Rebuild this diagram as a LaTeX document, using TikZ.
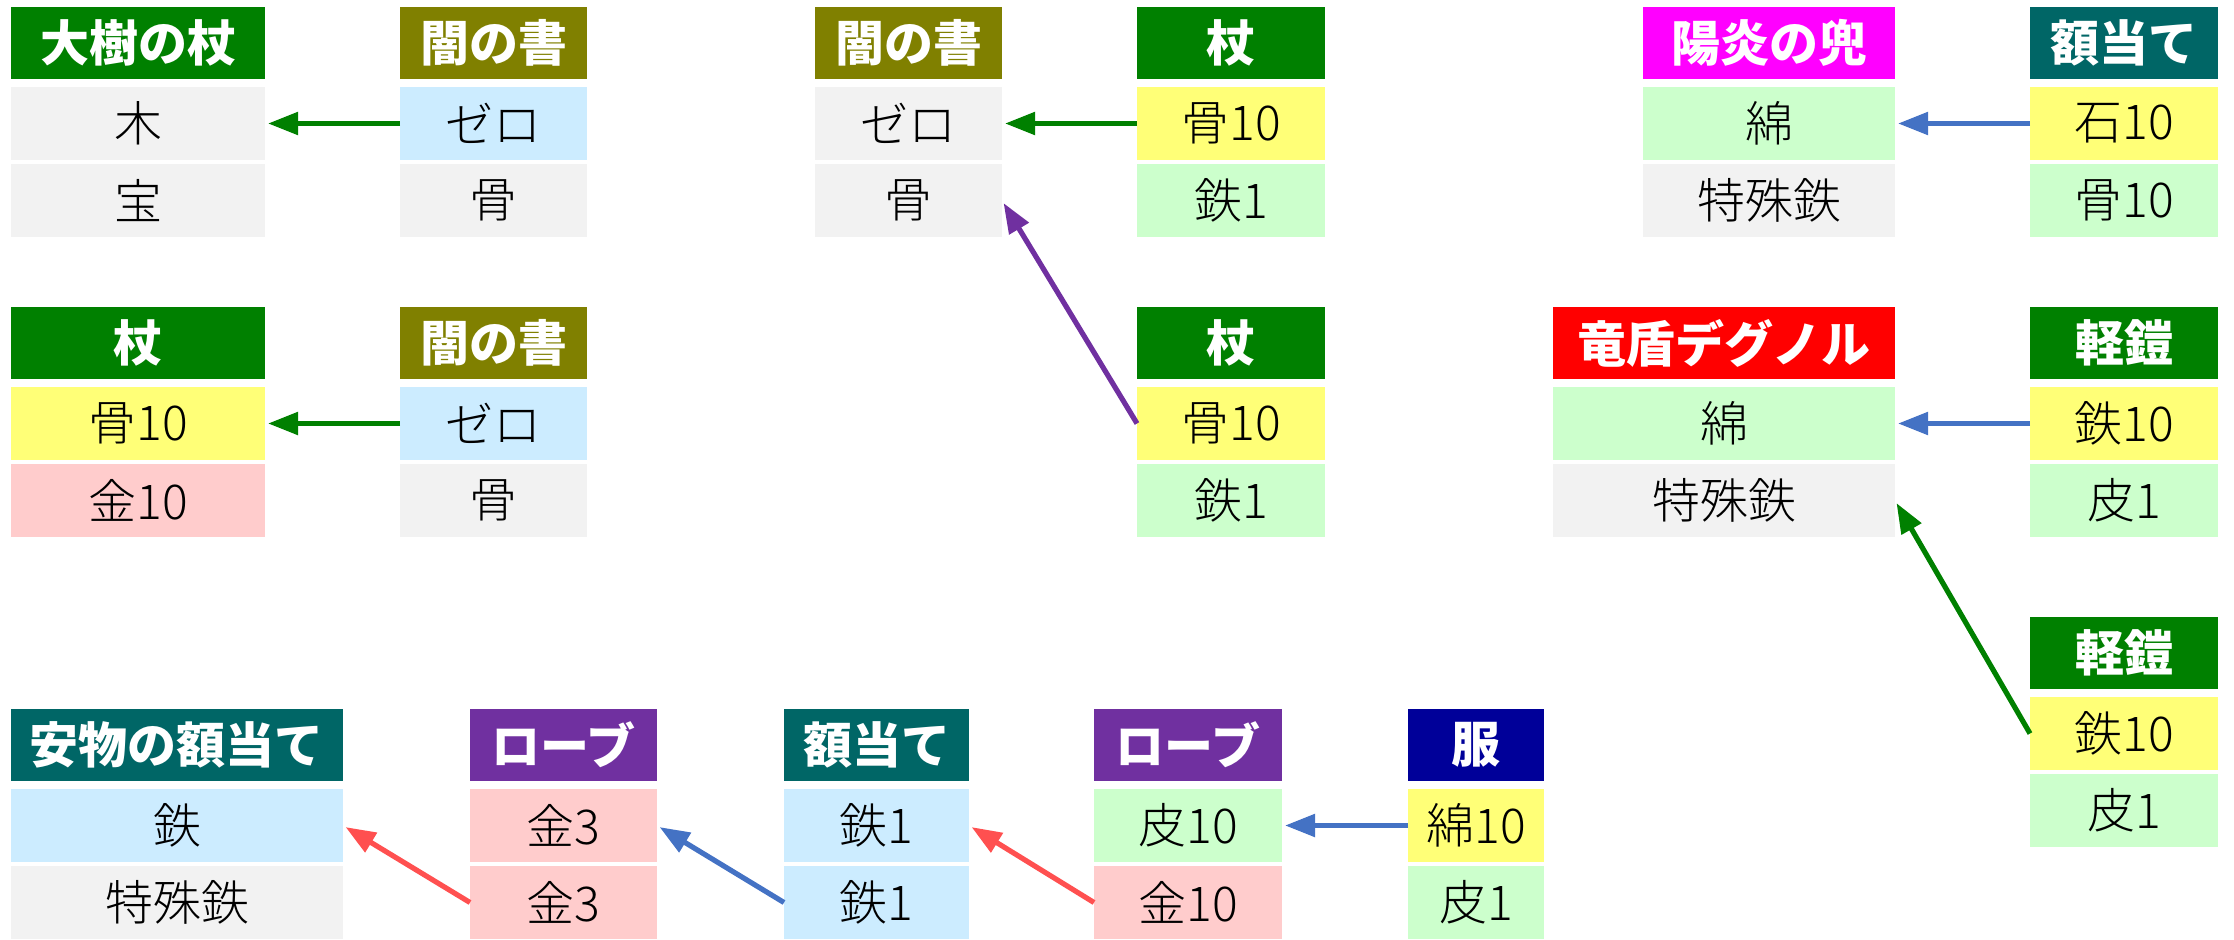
\documentclass[tikz,border=0pt]{standalone}
\usepackage{fontspec}
\newfontfamily\jp{Noto Sans CJK JP}
\newfontfamily\jpl{Noto Sans CJK JP Light}
\usetikzlibrary{arrows.meta}
\definecolor{hGreen}{HTML}{008000}
\definecolor{hOlive}{HTML}{808000}
\definecolor{hMag}{HTML}{FF00FF}
\definecolor{hTeal}{HTML}{006666}
\definecolor{hRed}{HTML}{FF0000}
\definecolor{hPurple}{HTML}{7030A0}
\definecolor{hNavy}{HTML}{000099}
\definecolor{cGray}{HTML}{F2F2F2}
\definecolor{cBlue}{HTML}{CCECFF}
\definecolor{cYellow}{HTML}{FFFF77}
\definecolor{cGreen}{HTML}{CCFFCC}
\definecolor{cPink}{HTML}{FFCCCC}
\definecolor{aBlue}{HTML}{4472C4}
\definecolor{aRed}{HTML}{FF5050}
\tikzset{
  headbox/.style={anchor=north west, inner sep=0pt, outer sep=0pt, minimum height=36pt,
    text=white, font=\jp\bfseries\fontsize{24.5}{24.5}\selectfont},
  cellbox/.style={anchor=north west, inner sep=0pt, outer sep=0pt, minimum height=36.5pt,
    text=black, font=\jpl\fontsize{24}{24}\selectfont},
  link/.style={line width=2.6pt, -{Triangle[length=15pt,width=11pt]}, shorten >=1.5pt}
}
% #1 name, #2 x, #3 top y, #4 width px, #5 header colour, #6 title, #7 row colours c1/c2, #8 row1 text, #9 row2 text
\newcommand\mkblock[9]{%
  \node[headbox, fill=#5, minimum width=#4*0.5pt] (#1h) at (#2,#3) {#6};
  \foreach \ca/\cb in {#7}{%
    \node[cellbox, fill=\ca, minimum width=#4*0.5pt] (#1a) at (#2,#3+80) {#8};
    \node[cellbox, fill=\cb, minimum width=#4*0.5pt] (#1b) at (#2,#3+157) {#9};
  }%
}
\begin{document}
\begin{tikzpicture}[x=0.5pt,y=-0.5pt]
\useasboundingbox (0,0) rectangle (2234,939);
% top-left pairs
\mkblock{A}{11}{7}{254}{hGreen}{大樹の杖}{cGray/cGray}{木}{宝}
\mkblock{B}{400}{7}{187}{hOlive}{闇の書}{cBlue/cGray}{ゼロ}{骨}
\mkblock{AA}{11}{307}{254}{hGreen}{杖}{cYellow/cPink}{骨10}{金10}
\mkblock{BB}{400}{307}{187}{hOlive}{闇の書}{cBlue/cGray}{ゼロ}{骨}
% middle
\mkblock{C}{815}{7}{187}{hOlive}{闇の書}{cGray/cGray}{ゼロ}{骨}
\mkblock{D}{1137}{7}{188}{hGreen}{杖}{cYellow/cGreen}{骨10}{鉄1}
\mkblock{DD}{1137}{307}{188}{hGreen}{杖}{cYellow/cGreen}{骨10}{鉄1}
% right
\mkblock{E}{1643}{7}{252}{hMag}{陽炎の兜}{cGreen/cGray}{綿}{特殊鉄}
\mkblock{F}{2030}{7}{188}{hTeal}{額当て}{cYellow/cGreen}{石10}{骨10}
\mkblock{EE}{1553}{307}{342}{hRed}{竜盾デグノル}{cGreen/cGray}{綿}{特殊鉄}
\mkblock{FF}{2030}{307}{188}{hGreen}{軽鎧}{cYellow/cGreen}{鉄10}{皮1}
\mkblock{FFF}{2030}{617}{188}{hGreen}{軽鎧}{cYellow/cGreen}{鉄10}{皮1}
% bottom chain
\mkblock{G}{11}{709}{332}{hTeal}{安物の額当て}{cBlue/cGray}{鉄}{特殊鉄}
\mkblock{H}{470}{709}{187}{hPurple}{ローブ}{cPink/cPink}{金3}{金3}
\mkblock{I}{784}{709}{185}{hTeal}{額当て}{cBlue/cBlue}{鉄1}{鉄1}
\mkblock{J}{1094}{709}{188}{hPurple}{ローブ}{cGreen/cPink}{皮10}{金10}
\mkblock{K}{1408}{709}{136}{hNavy}{服}{cYellow/cGreen}{綿10}{皮1}
% connectors
\draw[link, hGreen] (Ba.west) -- (Aa.east);
\draw[link, hGreen] (BBa.west) -- (AAa.east);
\draw[link, hGreen] (Da.west) -- (Ca.east);
\draw[link, hPurple] (DDa.west) -- (Cb.east);
\draw[link, aBlue] (Fa.west) -- (Ea.east);
\draw[link, aBlue] (FFa.west) -- (EEa.east);
\draw[link, hGreen] (FFFa.west) -- (EEb.east);
\draw[link, aBlue] (Ka.west) -- (Ja.east);
\draw[link, aRed] (Jb.west) -- (Ia.east);
\draw[link, aBlue] (Ib.west) -- (Ha.east);
\draw[link, aRed] (Hb.west) -- (Ga.east);
\end{tikzpicture}
\end{document}
